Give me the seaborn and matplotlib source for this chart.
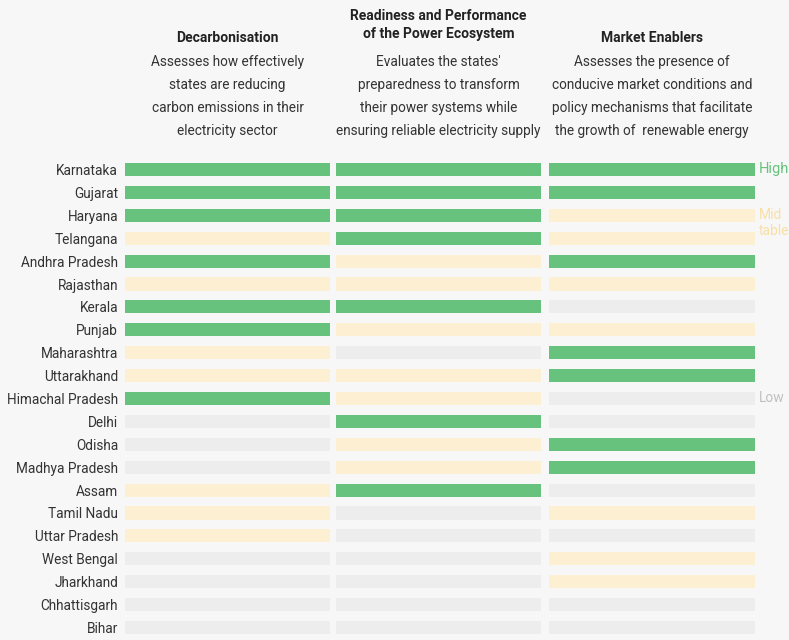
import seaborn as sns
import matplotlib.pyplot as plt
import pandas as pd

states = ['Karnataka', 'Gujarat', 'Haryana', 'Telangana', 'Andhra Pradesh',
          'Rajasthan', 'Kerala', 'Punjab', 'Maharashtra', 'Uttarakhand',
          'Himachal Pradesh', 'Delhi', 'Odisha', 'Madhya Pradesh', 'Assam',
          'Tamil Nadu', 'Uttar Pradesh', 'West Bengal', 'Jharkhand',
          'Chhattisgarh', 'Bihar']

decarb = ['High', 'High', 'High', 'Mid', 'High', 'Mid', 'High', 'High', 'Mid', 'Mid',
          'High', 'Low', 'Low', 'Low', 'Mid', 'Mid', 'Mid', 'Low', 'Low', 'Low', 'Low']
readiness = ['High', 'High', 'High', 'High', 'Mid', 'Mid', 'High', 'Mid', 'Low', 'Mid',
             'Mid', 'High', 'Mid', 'Mid', 'High', 'Low', 'Low', 'Low', 'Low', 'Low', 'Low']
market = ['High', 'High', 'Mid', 'Mid', 'High', 'Mid', 'Low', 'Mid', 'High', 'High',
          'Low', 'Low', 'High', 'High', 'Low', 'Mid', 'Low', 'Mid', 'Mid', 'Low', 'Low']

titles = ['Decarbonisation', 'Readiness and Performance\nof the Power Ecosystem', 'Market Enablers']
descs = ['Assesses how effectively\nstates are reducing\ncarbon emissions in their\nelectricity sector',
         "Evaluates the states'\npreparedness to transform\ntheir power systems while\nensuring reliable electricity supply",
         'Assesses the presence of\nconducive market conditions and\npolicy mechanisms that facilitate\nthe growth of  renewable energy']

palette = {'High': '#66c27c', 'Mid': '#fcefd2', 'Low': '#ededed'}
bg = '#f7f7f7'

sns.set_theme(style='white')
plt.rcParams['font.family'] = ['Roboto', 'DejaVu Sans']

fig = plt.figure(figsize=(7.89, 6.4), dpi=100)
fig.patch.set_facecolor(bg)

W, H = 789, 640
cols_x = [(125, 330), (336, 541), (549, 755)]
row_step = 22.9
top = 169.5 - row_step / 2
ax_h = row_step * len(states)

for i, levels in enumerate([decarb, readiness, market]):
    x0, x1 = cols_x[i]
    ax = fig.add_axes([x0 / W, 1 - (top + ax_h) / H, (x1 - x0) / W, ax_h / H])
    ax.set_facecolor(bg)
    df = pd.DataFrame({'state': states, 'level': levels, 'val': [1] * len(states)})
    sns.barplot(data=df, x='val', y='state', hue='level', palette=palette,
                dodge=False, width=0.57, legend=False, ax=ax, orient='h',
                saturation=1, linewidth=0)
    ax.set_xlim(0, 1)
    ax.set_ylim(len(states) - 0.5, -0.5)
    ax.set_xlabel('')
    ax.set_ylabel('')
    ax.set_xticks([])
    sns.despine(ax=ax, left=True, bottom=True)
    if i == 0:
        ax.tick_params(axis='y', length=0, pad=5, labelsize=9.8, labelcolor='#333333')
    else:
        ax.set_yticks([])

    cx = (x0 + x1) / 2 / W
    if '\n' in titles[i]:
        fig.text(cx, 1 - 25 / H, titles[i], ha='center', va='center', fontsize=10,
                 fontweight='bold', color='#222222', linespacing=1.45)
    else:
        fig.text(cx, 1 - 38 / H, titles[i], ha='center', va='center', fontsize=10,
                 fontweight='bold', color='#222222')
    fig.text(cx, 1 - 96.5 / H, descs[i], ha='center', va='center', fontsize=9.8,
             color='#333333', linespacing=1.83)

fig.text(759 / W, 1 - 169 / H, 'High', ha='left', va='center', fontsize=10.5, color='#66c27c')
fig.text(759 / W, 1 - 223 / H, 'Mid\ntable', ha='left', va='center', fontsize=10,
         color='#f9dfa3', linespacing=1.1)
fig.text(759 / W, 1 - 398 / H, 'Low', ha='left', va='center', fontsize=10, color='#c0c0c0')

plt.savefig('out.png', dpi=100, facecolor=bg)
